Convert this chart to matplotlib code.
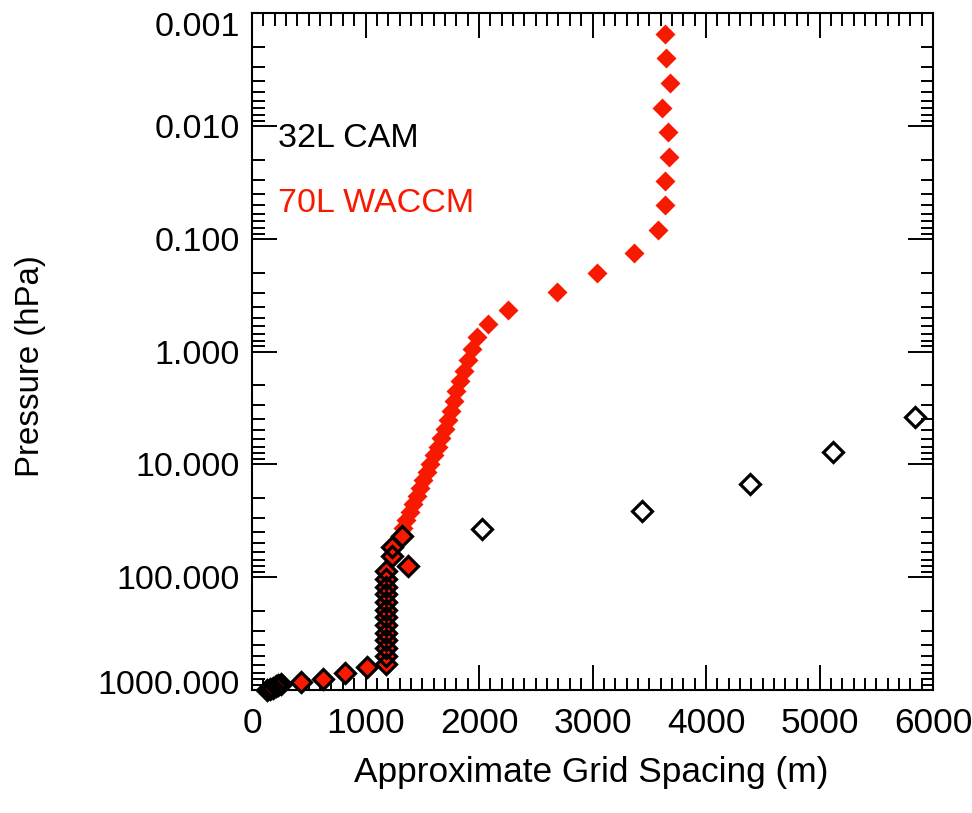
import matplotlib
matplotlib.use("Agg")
import matplotlib.pyplot as plt
from matplotlib.ticker import MultipleLocator, LogLocator, FixedLocator, FixedFormatter, NullFormatter
import matplotlib.transforms as mtransforms

# ---- data ----
waccm_spacing_m = [3639, 3645, 3683, 3615, 3668, 3674, 3641, 3641, 3580, 3366, 3040, 2687, 2256, 2077,
                   1980, 1939, 1902, 1865, 1832, 1798, 1780, 1756, 1728, 1701, 1669, 1635, 1602, 1568,
                   1538, 1508, 1479, 1450, 1419, 1388, 1360, 1333,
                   1324, 1231, 1236, 1377,
                   1178, 1178, 1178, 1178, 1178, 1178, 1178, 1178, 1178, 1178, 1178, 1178, 1178,
                   1010, 819, 623, 432, 258, 233, 209, 184, 160, 136]
waccm_pressure_hpa = [0.00152, 0.00253, 0.00415, 0.0069, 0.0113, 0.0187, 0.031, 0.0508, 0.0833, 0.133,
                      0.202, 0.298, 0.430, 0.571,
                      0.743, 0.949, 1.19, 1.48, 1.82, 2.23, 2.73, 3.34, 4.02, 4.82, 5.79, 6.95, 8.34, 10.0,
                      11.8, 13.9, 16.3, 19.2, 22.6, 26.6, 31.3, 36.8,
                      43.5, 54.5, 65.4, 79.1,
                      88, 103, 121, 141, 166, 194, 227, 266, 311, 364, 426, 499, 584,
                      624, 701, 791, 846, 880, 905, 930, 953, 973, 990]

cam_spacing_m = [5841, 5116, 4388, 3433, 2024,
                 1324, 1231, 1236, 1377,
                 1178, 1178, 1178, 1178, 1178, 1178, 1178, 1178, 1178, 1178, 1178, 1178, 1178,
                 1010, 819, 623, 432, 258, 233, 209, 184, 160, 136]
cam_pressure_hpa = [3.83, 7.8, 14.8, 25.9, 37.6,
                    43.5, 54.5, 65.4, 79.1,
                    88, 103, 121, 141, 166, 194, 227, 266, 311, 364, 426, 499, 584,
                    624, 701, 791, 846, 880, 905, 930, 953, 973, 990]

series_labels = ["32L CAM", "70L WACCM"]
x_ticks = [0, 1000, 2000, 3000, 4000, 5000, 6000]
y_ticks = [0.001, 0.01, 0.1, 1.0, 10.0, 100.0, 1000.0]
y_tick_labels = ["0.001", "0.010", "0.100", "1.000", "10.000", "100.000", "1000.000"]

RED = "#f81a00"

plt.rcParams['font.family'] = ['Liberation Sans', 'DejaVu Sans']

fig = plt.figure(figsize=(9.72, 8.13), dpi=100)
ax = fig.add_axes([252/972, 1 - 690/813, (933-252)/972, (690-13)/813])

ax.plot(waccm_spacing_m, waccm_pressure_hpa, linestyle='none', marker='D', markersize=10,
        markerfacecolor=RED, markeredgecolor='none', clip_on=False, zorder=3)
ax.plot(cam_spacing_m, cam_pressure_hpa, linestyle='none', marker='D', markersize=10,
        markerfacecolor='none', markeredgecolor='black', markeredgewidth=2.3, clip_on=False, zorder=4)

ax.set_yscale('log')
ax.set_xlim(0, 6000)
ax.set_ylim(1000, 0.001)

ax.xaxis.set_major_locator(FixedLocator(x_ticks))
ax.xaxis.set_minor_locator(MultipleLocator(100))
ax.yaxis.set_major_locator(FixedLocator(y_ticks))
ax.yaxis.set_major_formatter(FixedFormatter(y_tick_labels))
ax.yaxis.set_minor_locator(LogLocator(base=10, subs=[2, 3, 4, 5, 6, 7, 8, 9]))
ax.yaxis.set_minor_formatter(NullFormatter())

for s in ax.spines.values():
    s.set_linewidth(1.5)

ax.tick_params(which='both', direction='in', top=True, right=True, width=1.4, colors='black')
ax.tick_params(which='major', length=18)
ax.tick_params(which='minor', length=9)
ax.tick_params(axis='x', which='major', pad=12, labelsize=25.5)
ax.tick_params(axis='y', which='major', pad=9, labelsize=24.5)

ax.set_xlabel("Approximate Grid Spacing (m)", fontsize=25.4)
ax.set_ylabel("Pressure (hPa)", fontsize=23.8)
ax.xaxis.set_label_coords(0.4985, -0.097)
ax.yaxis.set_label_coords(-0.302, 0.479)

ax.text(0.038, 0.815, series_labels[0], transform=ax.transAxes, fontsize=24.5,
        color='black', ha='left', va='center')
ax.text(0.038, 0.718, series_labels[1], transform=ax.transAxes, fontsize=24.5,
        color=RED, ha='left', va='center')

# nudge the end labels inside the axis range like the reference
labels = ax.get_yticklabels()
labels[0].set_transform(labels[0].get_transform() + mtransforms.ScaledTranslation(0, -11/100, fig.dpi_scale_trans))
labels[-1].set_transform(labels[-1].get_transform() + mtransforms.ScaledTranslation(0, 8/100, fig.dpi_scale_trans))

fig.savefig("out.png", dpi=100)
